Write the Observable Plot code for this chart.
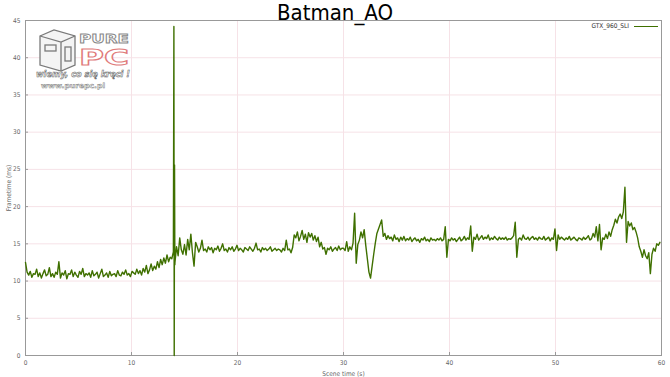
<!DOCTYPE html>
<html><head><meta charset="utf-8">
<script src="https://cdn.jsdelivr.net/npm/d3@7"></script>
<script src="https://cdn.jsdelivr.net/npm/@observablehq/plot@0.6"></script>
<style>
body{margin:0;background:#fff;}
#wrap{position:relative;width:670px;height:377px;font-family:"DejaVu Sans Condensed","DejaVu Sans",sans-serif;}
#title{position:absolute;left:0;top:1px;width:670px;text-align:center;font-size:22px;line-height:24px;color:#000;z-index:2;}
#legend{position:absolute;left:560px;top:22px;width:98px;font-size:6.5px;color:#333;z-index:2;display:flex;align-items:center;justify-content:flex-end;}
#legend span.sw{display:inline-block;width:24px;height:0;border-top:1.5px solid #3f7000;margin-left:5px;}
#logo{position:absolute;left:34px;top:26px;z-index:1;overflow:visible;}
</style></head>
<body>
<div id="wrap">
  <div id="title">Batman_AO</div>
  <div id="legend"><span>GTX_960_SLI</span><span class="sw"></span></div>
  <svg id="logo" width="112" height="72" viewBox="0 0 112 72">
    <g fill="#f4f4f4" stroke="#7a7a7a" stroke-width="1.3">
      <path d="M6 10 L20 4 L41 10 L41 39 L27 45 L6 39 Z"/>
      <path d="M6 10 L27 16 L41 10 M27 16 L27 45" fill="none"/>
      <rect x="11" y="19" width="11" height="6" fill="none"/>
      <rect x="31" y="21" width="6" height="14" fill="none"/>
    </g>
    <text x="45" y="17" font-family="DejaVu Sans" font-size="12" font-weight="bold" fill="#fff" stroke="#888" stroke-width="0.8" textLength="50" lengthAdjust="spacingAndGlyphs">PURE</text>
    <text x="45" y="39" font-family="DejaVu Sans" font-size="22" font-weight="bold" fill="#fff" stroke="#e07a7a" stroke-width="1" textLength="50" lengthAdjust="spacingAndGlyphs">PC</text>
    <text x="2" y="51" font-family="DejaVu Sans" font-size="9.5" font-style="italic" font-weight="bold" fill="#fff" stroke="#666" stroke-width="0.6" textLength="94" lengthAdjust="spacingAndGlyphs">wiemy, co się kręci !</text>
    <text x="7" y="62" font-family="DejaVu Sans" font-size="7" font-weight="bold" fill="#fff" stroke="#888" stroke-width="0.5" textLength="64" lengthAdjust="spacingAndGlyphs">www.purepc.pl</text>
  </svg>
  <div id="chart"></div>
</div>
<script>
const sampleStep = 0.15;
const frametimes = [
  12.5,11.2,10.8,11.3,10.5,11.0,10.9,11.6,10.6,11.1,10.4,11.0,11.5,10.7,10.9,11.8,10.6,11.0,10.5,11.2,
  10.9,12.6,10.4,11.1,10.8,11.4,10.3,11.0,10.9,11.5,10.6,11.2,10.8,10.5,11.3,10.9,11.7,10.6,11.0,10.8,
  11.1,10.5,11.4,10.7,10.9,11.2,10.4,11.0,11.6,10.6,10.8,11.1,10.5,11.3,10.7,10.9,11.0,10.6,11.4,10.8,
  10.7,11.2,10.9,11.5,10.8,11.0,10.6,11.3,11.1,10.9,11.6,11.0,11.4,10.8,11.7,11.2,12.1,11.0,11.5,12.3,
  11.4,12.0,11.6,12.6,11.8,12.9,12.2,13.1,12.4,13.5,12.6,13.2,13.0,13.9,12.5,14.6,13.4,15.8,14.2,13.6,
  14.9,13.5,15.6,14.2,16.3,13.8,12.0,15.2,14.6,13.9,14.4,15.5,14.1,14.3,13.9,14.6,14.2,14.5,13.8,14.4,
  14.2,14.7,14.0,14.4,15.0,14.1,14.3,13.9,14.5,14.2,14.6,14.0,14.3,14.8,14.1,14.4,14.2,13.9,14.5,14.3,
  14.1,14.6,14.3,14.0,14.4,15.1,14.2,14.3,13.9,14.5,14.2,14.4,14.1,14.3,14.6,14.0,14.2,14.4,14.1,14.3,
  14.2,13.9,14.4,14.1,15.5,14.2,14.3,13.8,14.5,16.2,15.8,16.6,15.4,16.0,16.8,15.6,16.3,15.2,16.5,15.9,
  16.4,15.5,16.1,15.3,15.9,14.6,15.2,14.3,14.5,13.6,14.4,14.2,14.6,14.0,14.3,14.5,14.1,14.7,14.2,14.4,
  14.4,14.1,15.3,14.0,14.6,14.2,15.1,19.1,12.4,14.9,15.5,16.6,15.8,16.9,14.8,13.0,11.2,10.4,12.0,13.6,
  15.1,16.4,17.0,17.6,18.2,16.0,16.4,15.6,16.1,15.7,15.9,15.4,16.2,15.6,15.8,15.3,15.9,15.5,16.0,15.4,
  15.7,15.5,15.9,15.3,15.6,15.8,15.4,15.6,15.2,15.7,15.5,15.9,15.4,15.6,15.3,15.8,15.5,15.6,15.4,15.7,
  15.5,15.8,15.4,15.6,17.3,13.2,15.6,15.4,15.8,15.5,15.7,15.3,15.6,15.9,15.4,15.6,16.0,15.5,15.8,15.6,
  17.4,14.0,15.9,15.6,16.3,15.5,15.8,16.1,15.6,15.9,15.7,16.2,15.5,15.8,15.6,16.0,15.7,15.5,15.9,15.6,
  15.8,15.6,15.9,15.5,15.7,15.6,15.8,16.1,17.9,13.2,15.6,15.8,15.5,16.2,15.7,15.6,15.9,15.5,15.8,16.0,
  15.6,15.8,15.5,15.9,15.7,15.6,16.0,15.5,15.7,15.9,15.4,15.8,15.6,17.0,14.1,16.2,15.6,15.9,15.7,15.5,
  15.8,15.6,16.0,15.5,15.7,15.9,15.6,15.4,15.8,15.7,15.5,15.9,15.6,15.8,16.1,15.5,15.7,16.4,15.9,17.3,
  15.4,17.6,14.2,15.8,15.6,16.3,15.7,16.6,16.0,16.9,17.5,18.3,17.8,18.6,19.0,18.4,19.3,22.6,15.2,18.0,
  17.4,17.8,16.9,17.2,16.6,15.8,14.6,14.0,13.2,14.2,13.4,13.0,13.8,11.0,13.6,14.4,14.0,15.0,14.8,15.2
];
const spikeTimes = [14.0, 14.03, 14.06, 14.09];
const spikeValues = [44.2, 0, 25.6, 12.2];
const xTicks = [0, 10, 20, 30, 40, 50, 60];
const yTicks = [0, 5, 10, 15, 20, 25, 30, 35, 40, 45];

const data = frametimes.map((v, i) => ({t: i * sampleStep, v}));
spikeTimes.forEach((t, i) => data.push({t, v: spikeValues[i]}));
data.sort((a, b) => a.t - b.t);

const chart = Plot.plot({
  width: 670, height: 377,
  marginLeft: 25, marginRight: 9, marginTop: 20, marginBottom: 22,
  style: {fontFamily: '"DejaVu Sans Condensed","DejaVu Sans",sans-serif', fontSize: "6.5px", color: "#666", background: "transparent"},
  x: {domain: [0, 60]},
  y: {domain: [0, 45]},
  marks: [
    Plot.gridX(xTicks, {stroke: "#f6e2e7", strokeOpacity: 1}),
    Plot.gridY(yTicks, {stroke: "#f6e2e7", strokeOpacity: 1}),
    Plot.frame({stroke: "#999"}),
    Plot.axisX(xTicks, {tickSize: -3, stroke: "#999", text: null, label: null}),
    Plot.axisY(yTicks, {tickSize: -3, stroke: "#999", text: null, label: null}),
    Plot.axisX(xTicks, {tickSize: 0, tickPadding: 5, label: "Scene time (s)", labelAnchor: "center", labelArrow: "none", labelOffset: 20}),
    Plot.axisY(yTicks, {tickSize: 0, tickPadding: 5, label: "Frametime (ms)", labelAnchor: "center", labelArrow: "none", labelOffset: 19}),
    Plot.lineY(data, {x: "t", y: "v", stroke: "#3f7000", strokeWidth: 1.4})
  ]
});
document.getElementById("chart").appendChild(chart);
</script>
</body></html>
